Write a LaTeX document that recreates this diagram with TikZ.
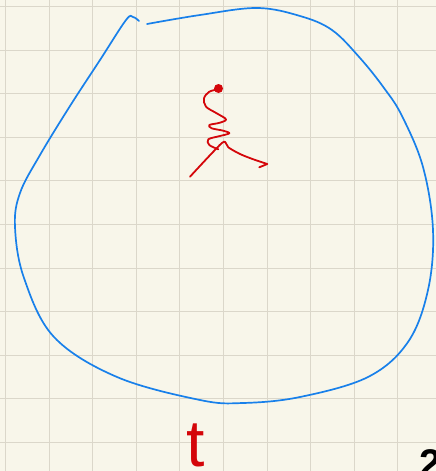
\documentclass[tikz,border=0pt]{standalone}
\usepackage{fontspec}
\newfontfamily\handfont{Liberation Sans}
\definecolor{paper}{RGB}{248,246,234}
\definecolor{gridline}{RGB}{219,215,202}
\definecolor{penblue}{RGB}{24,128,234}
\definecolor{penred}{RGB}{212,6,10}
\begin{document}
\begin{tikzpicture}[x=1pt, y=-1pt,
    bluepen/.style={penblue, line width=1.7pt, line cap=round, line join=round},
    redpen/.style={penred, line width=1.8pt, line cap=round, line join=round}]
    % Papier
    \fill[paper] (0, 0) rectangle (436, 471);
    \useasboundingbox (0, 0) rectangle (436, 471);
    \clip (0, 0) rectangle (436, 471);
    \foreach \i in {0,...,9}
        \draw[gridline, line width=0.8pt] (5.3+43.6*\i, 0) -- (5.3+43.6*\i, 471);
    \foreach \j in {0,...,10}
        \draw[gridline, line width=0.8pt] (0, 6.4+43.6*\j) -- (436, 6.4+43.6*\j);

    % Kurve
    \draw[bluepen] plot[smooth, tension=0.6] coordinates {
        (147,24) (200,15) (257,8) (300,16) (332,30) (360,58) (384,88) (402,116)
        (423,167) (433,230) (428,290) (408,342) (368,377) (300,397) (243,403)
        (200,400) (117,377) (54,337) (24,278) (15,227) (20,193) (40,155)
        (70,106) (100,60) (126,20) (133,17) (139,21)};

    % Spirale
    \fill[penred] (218.5, 88.5) circle (4.5);
    \draw[redpen] plot[smooth, tension=0.55] coordinates {
        (218.3,89.3) (209.3,91.7) (204,98.3) (206,106.7) (216.7,113.3) (226,119.3)
        (220,122.7) (209.3,125) (211.7,128.3) (223.3,130.7) (229.3,133.3) (220,136)
        (208.3,139.3) (209.3,145) (218.3,149.3)};
    \draw[redpen] plot[smooth, tension=0.5] coordinates {
        (190,176.7) (213.3,151.7) (224,141.7) (228.3,147.3) (240,154)
        (253.3,159.3) (267.3,164)} -- (259.3,167.3);

    % Beschriftung
    \node[penred, font=\handfont\fontsize{66}{66}\selectfont, anchor=base, inner sep=0pt] (tlabel) at (196, 466) {t};
    \node[black, font=\handfont\bfseries\fontsize{40}{40}\selectfont, anchor=north west, inner sep=0pt] (zwei) at (419, 449) {2};
\end{tikzpicture}
\end{document}
